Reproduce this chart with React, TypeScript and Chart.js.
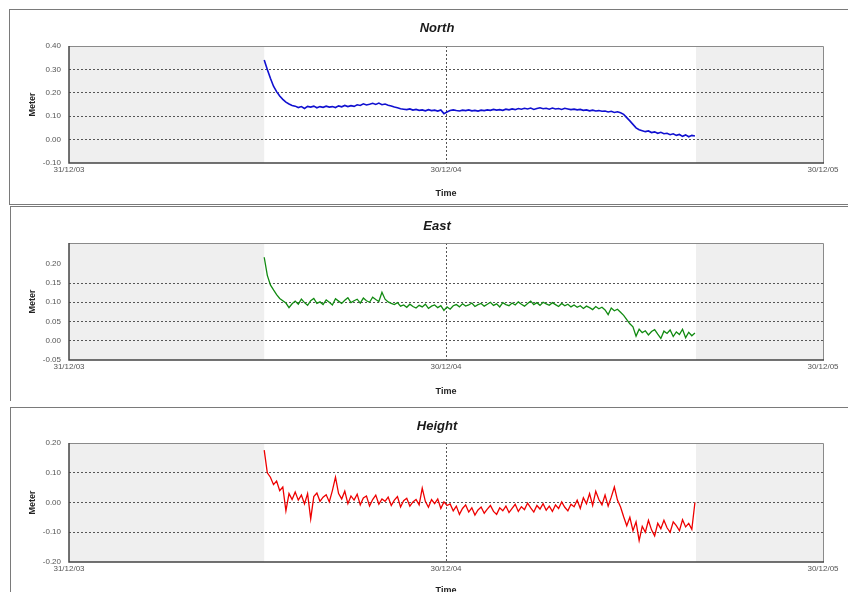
import React, { useEffect, useRef } from "react";
import { Chart, registerables } from "chart.js";

Chart.register(...registerables);

// ---- data ----
const xTickDays = [0, 365, 730];
const xTickLabels = ["31/12/03", "30/12/04", "30/12/05"];
const xGridDays = [365];
const sampleStartDay = 189;
const sampleStepDays = 3;
const dataStartDay = 189;
const dataEndDay = 607;

const northValues = [
  0.340, 0.300, 0.262, 0.228, 0.205, 0.186, 0.172, 0.160, 0.152, 0.146,
  0.143, 0.137, 0.141, 0.133, 0.142, 0.139, 0.143, 0.136, 0.141, 0.138,
  0.143, 0.139, 0.141, 0.137, 0.144, 0.140, 0.146, 0.141, 0.145, 0.142,
  0.149, 0.146, 0.153, 0.148, 0.151, 0.155, 0.150, 0.156, 0.149, 0.152,
  0.147, 0.144, 0.139, 0.136, 0.132, 0.130, 0.128, 0.131, 0.126, 0.129,
  0.125, 0.127, 0.123, 0.128, 0.124, 0.126, 0.122, 0.127, 0.111, 0.118,
  0.124, 0.127, 0.124, 0.122, 0.126, 0.124, 0.127, 0.123, 0.125, 0.122,
  0.126, 0.124, 0.127, 0.125, 0.129, 0.126, 0.128, 0.125, 0.130, 0.127,
  0.131, 0.128, 0.133, 0.130, 0.134, 0.131, 0.135, 0.129, 0.133, 0.136,
  0.132, 0.134, 0.130, 0.135, 0.131, 0.133, 0.129, 0.134, 0.131, 0.128,
  0.130, 0.127, 0.129, 0.125, 0.127, 0.123, 0.126, 0.122, 0.124, 0.121,
  0.122, 0.118, 0.121, 0.116, 0.119, 0.115, 0.108, 0.094, 0.080, 0.065,
  0.050, 0.042, 0.038, 0.034, 0.037, 0.030, 0.033, 0.027, 0.031, 0.025,
  0.027, 0.021, 0.025, 0.018, 0.022, 0.014, 0.020, 0.012, 0.018, 0.015,
];

const eastValues = [
  0.217, 0.170, 0.145, 0.132, 0.120, 0.110, 0.104, 0.098, 0.086, 0.096,
  0.103, 0.095, 0.108, 0.099, 0.092, 0.104, 0.110, 0.097, 0.101, 0.094,
  0.106, 0.100, 0.093, 0.109, 0.103, 0.097, 0.105, 0.112, 0.099, 0.104,
  0.108, 0.098, 0.111, 0.104, 0.100, 0.113, 0.107, 0.102, 0.126, 0.108,
  0.101, 0.097, 0.094, 0.099, 0.090, 0.093, 0.087, 0.095, 0.089, 0.085,
  0.092, 0.088, 0.095, 0.084, 0.090, 0.093, 0.086, 0.091, 0.079, 0.088,
  0.082, 0.091, 0.094, 0.088, 0.096, 0.090, 0.093, 0.098, 0.089, 0.094,
  0.097, 0.090, 0.095, 0.100, 0.092, 0.096, 0.088, 0.099, 0.094, 0.091,
  0.098, 0.093, 0.101, 0.095, 0.090, 0.097, 0.103, 0.094, 0.099, 0.092,
  0.100, 0.096, 0.092, 0.099, 0.094, 0.089, 0.097, 0.091, 0.095, 0.088,
  0.093, 0.087, 0.091, 0.084, 0.090, 0.086, 0.081, 0.089, 0.083, 0.087,
  0.080, 0.068, 0.085, 0.078, 0.082, 0.074, 0.066, 0.055, 0.044, 0.036,
  0.012, 0.030, 0.021, 0.026, 0.015, 0.024, 0.029, 0.017, 0.006, 0.025,
  0.019, 0.028, 0.011, 0.023, 0.016, 0.030, 0.008, 0.022, 0.013, 0.020,
];

const heightValues = [
  0.176, 0.100, 0.085, 0.060, 0.072, 0.040, 0.052, -0.028, 0.030, 0.010,
  0.035, 0.008, 0.025, -0.005, 0.030, -0.055, 0.020, 0.032, 0.004, 0.018,
  0.026, 0.002, 0.040, 0.085, 0.030, 0.012, 0.038, -0.004, 0.022, 0.008,
  0.028, -0.008, 0.015, 0.022, -0.012, 0.010, 0.025, -0.006, 0.012, 0.004,
  0.018, -0.010, 0.008, 0.020, -0.015, 0.006, 0.014, -0.012, 0.002, 0.010,
  -0.008, 0.048, 0.004, -0.016, 0.010, -0.004, 0.012, -0.020, 0.002, -0.010,
  -0.005, -0.028, -0.012, -0.040, -0.020, -0.008, -0.032, -0.018, -0.042, -0.025,
  -0.015, -0.036, -0.022, -0.010, -0.030, -0.040, -0.018, -0.028, -0.012, -0.034,
  -0.020, -0.006, -0.030, -0.014, -0.024, -0.002, -0.018, -0.032, -0.010, -0.022,
  -0.004, -0.026, -0.012, -0.030, -0.008, -0.020, 0.002, -0.016, -0.028, -0.006,
  -0.014, 0.008, -0.020, 0.016, -0.004, 0.030, -0.010, 0.038, 0.010, -0.008,
  0.025, -0.012, 0.018, 0.052, 0.008, -0.015, -0.048, -0.078, -0.050, -0.095,
  -0.065, -0.128, -0.080, -0.100, -0.060, -0.092, -0.112, -0.070, -0.088, -0.060,
  -0.085, -0.100, -0.065, -0.078, -0.095, -0.058, -0.082, -0.070, -0.090, 0.000,
];

const northYTicks = [-0.1, 0, 0.1, 0.2, 0.3, 0.4];
const northYGrid = [0, 0.1, 0.2, 0.3];
const eastYTicks = [-0.05, 0, 0.05, 0.1, 0.15, 0.2];
const eastYGrid = [0, 0.05, 0.1, 0.15];
const heightYTicks = [-0.2, -0.1, 0, 0.1, 0.2];
const heightYGrid = [-0.1, 0, 0.1];

const FONT = "'Liberation Sans', Arial, Helvetica, sans-serif";

type PanelProps = {
  title: string;
  values: number[];
  color: string;
  lineWidth: number;
  yMin: number;
  yMax: number;
  yTicks: number[];
  yGrid: number[];
  top: number;
  height: number;
  plotTop: number;
  plotBottom: number;
  titleY: number;
  timeY: number;
};

const decoPlugin = {
  id: "panelDeco",
  beforeDraw(chart: any, _args: any, opts: any) {
    const { ctx, chartArea: a, scales } = chart;
    const x = scales.x;
    ctx.save();
    ctx.fillStyle = "#efefef";
    ctx.fillRect(a.left, a.top, a.right - a.left, a.bottom - a.top);
    const x0 = x.getPixelForValue(opts.start);
    const x1 = x.getPixelForValue(opts.end);
    ctx.fillStyle = "#ffffff";
    ctx.fillRect(x0, a.top, x1 - x0, a.bottom - a.top);
    ctx.restore();
  },
  afterDraw(chart: any, _args: any, opts: any) {
    const { ctx, chartArea: a } = chart;
    ctx.save();
    ctx.strokeStyle = "#8a8a8a";
    ctx.lineWidth = 1;
    ctx.beginPath();
    ctx.moveTo(a.left, a.top + 0.5);
    ctx.lineTo(a.right + 0.5, a.top + 0.5);
    ctx.lineTo(a.right + 0.5, a.bottom);
    ctx.stroke();
    ctx.strokeStyle = "#444";
    ctx.lineWidth = 1.5;
    ctx.beginPath();
    ctx.moveTo(a.left, a.top);
    ctx.lineTo(a.left, a.bottom);
    ctx.lineTo(a.right + 1, a.bottom);
    ctx.stroke();
    ctx.fillStyle = "#1a1a1a";
    ctx.font = `italic bold 13px ${FONT}`;
    ctx.textAlign = "center";
    ctx.textBaseline = "middle";
    ctx.fillText(opts.title, opts.titleX, opts.titleY);
    ctx.restore();
  },
};

function Panel(p: PanelProps) {
  const ref = useRef<HTMLCanvasElement | null>(null);
  useEffect(() => {
    if (!ref.current) return;
    const pts = p.values.map((v, i) => ({ x: sampleStartDay + i * sampleStepDays, y: v }));
    const xAxisH = p.top + p.height - p.plotBottom;
    const titleLH = 9 * 1.2;
    const timePadBottom = p.top + p.height - p.timeY - titleLH / 2;
    const chart = new Chart(ref.current, {
      type: "line",
      data: {
        datasets: [
          {
            data: pts,
            borderColor: p.color,
            borderWidth: p.lineWidth,
            pointRadius: 0,
            tension: 0,
            fill: false,
          },
        ],
      },
      options: {
        responsive: false,
        animation: false,
        devicePixelRatio: 1,
        layout: { padding: { left: 26, right: 25, top: p.plotTop - p.top, bottom: 0 } },
        plugins: {
          legend: { display: false },
          title: { display: false },
          tooltip: { enabled: false },
          panelDeco: { start: dataStartDay, end: dataEndDay, title: p.title, titleX: 437, titleY: p.titleY - p.top },
        } as any,
        scales: {
          x: {
            type: "linear",
            min: 0,
            max: 730,
            afterBuildTicks: (s: any) => {
              s.ticks = xTickDays.map((v) => ({ value: v }));
            },
            afterFit: (s: any) => {
              s.height = xAxisH;
            },
            ticks: {
              autoSkip: false,
              maxRotation: 0,
              padding: 2,
              color: "#555",
              font: { size: 8, family: FONT },
              callback: (v: any) => xTickLabels[xTickDays.indexOf(Number(v))] ?? "",
            },
            grid: {
              drawTicks: false,
              lineWidth: 1,
              color: (c: any) => (c.tick && xGridDays.includes(c.tick.value) ? "#555" : "rgba(0,0,0,0)"),
            },
            border: { display: false, dash: [2, 2] },
            title: {
              display: true,
              text: "Time",
              color: "#222",
              font: { size: 9, weight: "bold", family: FONT },
              padding: { top: 0, bottom: timePadBottom },
            },
          },
          y: {
            type: "linear",
            min: p.yMin,
            max: p.yMax,
            afterBuildTicks: (s: any) => {
              s.ticks = p.yTicks.map((v) => ({ value: v }));
            },
            afterFit: (s: any) => {
              s.width = 43;
            },
            ticks: {
              padding: 8,
              color: "#555",
              font: { size: 8, family: FONT },
              callback: (v: any) => Number(v).toFixed(2),
            },
            grid: {
              drawTicks: false,
              lineWidth: 1,
              color: (c: any) =>
                c.tick && p.yGrid.some((g) => Math.abs(g - c.tick.value) < 1e-9) ? "#555" : "rgba(0,0,0,0)",
            },
            border: { display: false, dash: [2, 2] },
            title: {
              display: true,
              text: "Meter",
              color: "#222",
              font: { size: 9, weight: "bold", family: FONT },
              padding: { top: 1, bottom: 0 },
            },
          },
        },
      },
      plugins: [decoPlugin as any],
    });
    return () => chart.destroy();
  }, []);
  return (
    <canvas
      ref={ref}
      width={848}
      height={p.height}
      style={{ position: "absolute", left: 0, top: p.top, width: 848, height: p.height }}
    />
  );
}

export default function App() {
  useEffect(() => {
    document.body.style.margin = "0";
  }, []);
  const frame = "1px solid #7a7a7a";
  return (
    <div style={{ position: "relative", width: 848, height: 592, overflow: "hidden", background: "#fff" }}>
      <div style={{ position: "absolute", left: 9, top: 9, width: 900, height: 194, borderLeft: frame, borderTop: frame, borderBottom: frame }} />
      <div style={{ position: "absolute", left: 10, top: 206, width: 900, height: 194, borderLeft: frame, borderTop: frame }} />
      <div style={{ position: "absolute", left: 10, top: 407, width: 900, height: 200, borderLeft: frame, borderTop: frame }} />
      <Panel title="North" values={northValues} color="#1010d0" lineWidth={1.6} yMin={-0.1} yMax={0.4} yTicks={northYTicks} yGrid={northYGrid}
        top={0} height={205} plotTop={46} plotBottom={163} titleY={28} timeY={194} />
      <Panel title="East" values={eastValues} color="#118a11" lineWidth={1.3} yMin={-0.05} yMax={0.254} yTicks={eastYTicks} yGrid={eastYGrid}
        top={205} height={200} plotTop={243} plotBottom={360} titleY={226} timeY={392} />
      <Panel title="Height" values={heightValues} color="#ee0000" lineWidth={1.3} yMin={-0.2} yMax={0.2} yTicks={heightYTicks} yGrid={heightYGrid}
        top={405} height={200} plotTop={443} plotBottom={562} titleY={426} timeY={591} />
    </div>
  );
}
